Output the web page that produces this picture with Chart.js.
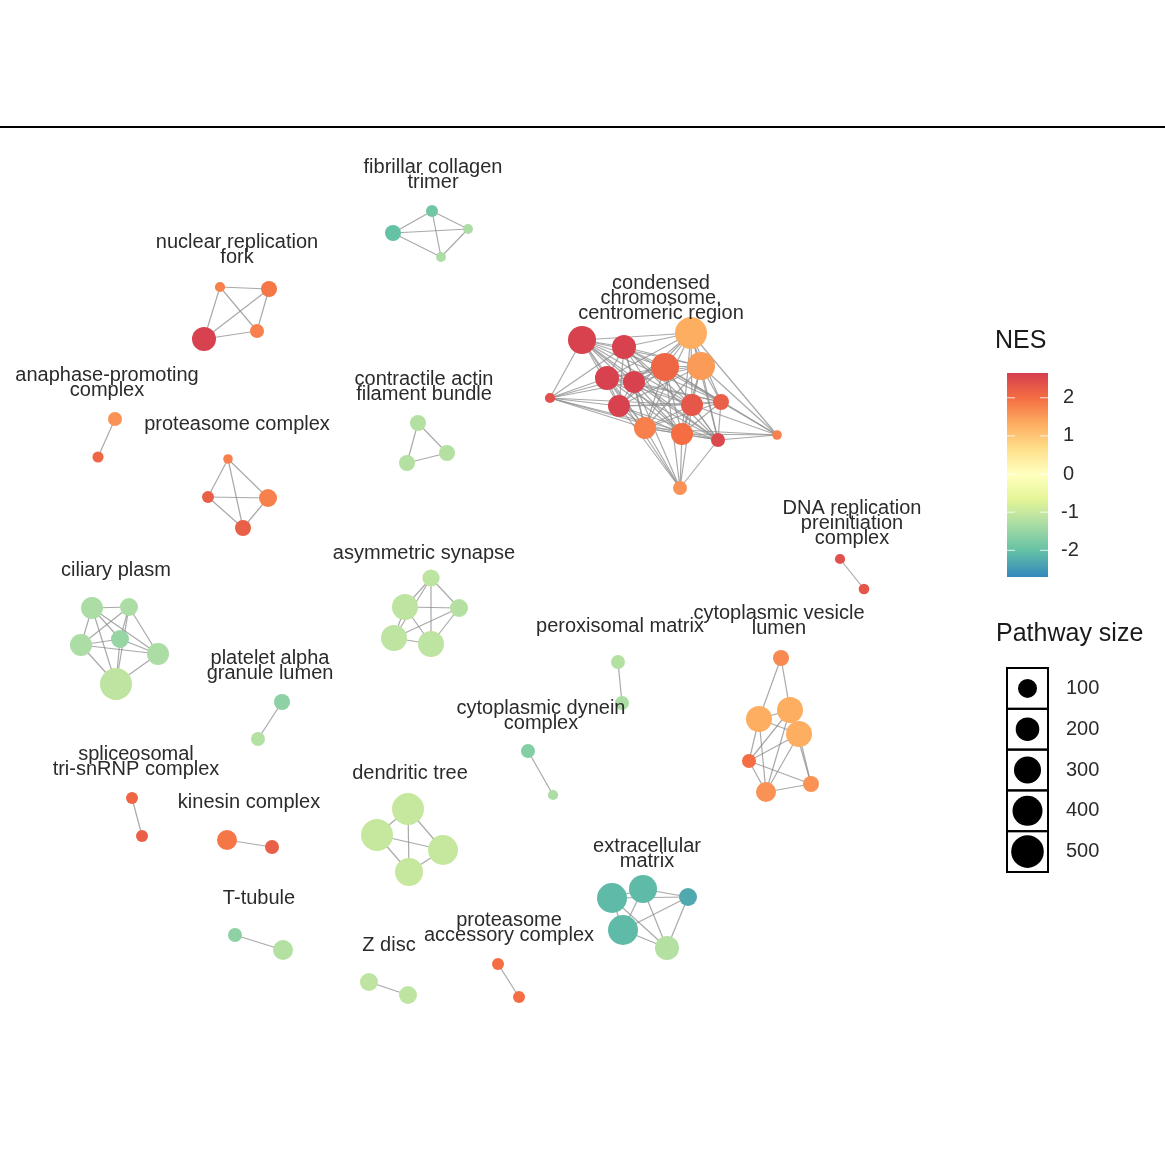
<!DOCTYPE html>
<html><head><meta charset="utf-8">
<script src="https://cdn.jsdelivr.net/npm/chart.js@4/dist/chart.umd.min.js"></script>
<style>html,body{margin:0;padding:0;background:#fff;}#wrap{width:1165px;height:1165px;}</style>
</head><body><div id="wrap"><canvas id="c" width="1165" height="1165"></canvas></div>
<script>
// ---- cluster labels ----
const clusterLabels = [
  ["fibrillar collagen","trimer"],
  ["nuclear replication","fork"],
  ["anaphase-promoting","complex"],
  ["proteasome complex"],
  ["contractile actin","filament bundle"],
  ["condensed","chromosome,","centromeric region"],
  ["DNA replication","preinitiation","complex"],
  ["ciliary plasm"],
  ["asymmetric synapse"],
  ["peroxisomal matrix"],
  ["cytoplasmic vesicle","lumen"],
  ["platelet alpha","granule lumen"],
  ["cytoplasmic dynein","complex"],
  ["spliceosomal","tri-snRNP complex"],
  ["kinesin complex"],
  ["dendritic tree"],
  ["extracellular","matrix"],
  ["T-tubule"],
  ["Z disc"],
  ["proteasome","accessory complex"]
];
const labelX = [433,237,107,237,424,661,852,116,424,620,779,270,541,136,249,410,647,259,389,509];
const labelY = [167,242,375,424,379,283,508,570,553,626,613,658,708,754,802,773,846,898,945,920];

// ---- nodes (layout coordinates, pathway size, NES) ----
const nodeCluster = [0,0,0,0, 1,1,1,1, 2,2, 3,3,3,3, 4,4,4,
  5,5,5,5,5,5,5,5,5,5,5,5,5,5,5,5, 6,6, 7,7,7,7,7,7, 8,8,8,8,8, 9,9,
  10,10,10,10,10,10,10, 11,11, 12,12, 13,13, 14,14, 15,15,15,15, 16,16,16,16,16, 17,17, 18,18, 19,19];
const nodeX = [393,432,468,441, 220,269,257,204, 115,98, 228,208,268,243, 418,447,407,
  582,624,691,665,701,607,634,550,619,692,721,645,682,718,777,680, 840,864,
  92,129,120,81,158,116, 431,405,459,394,431, 618,622,
  781,759,790,799,749,766,811, 282,258, 528,553, 132,142, 227,272,
  408,377,443,409, 612,643,688,623,667, 235,283, 369,408, 498,519];
const nodeY = [233,211,229,257, 287,289,331,339, 419,457, 459,497,498,528, 423,453,463,
  340,347,333,367,366,378,382,398,406,405,402,428,434,440,435,488, 559,589,
  608,607,639,645,654,684, 578,607,608,638,644, 662,703,
  658,719,710,734,761,792,784, 702,739, 751,795, 798,836, 840,847,
  809,835,850,872, 898,889,897,930,948, 935,950, 982,995, 964,997];
const nodeSize = [53,13,3,3, 4,53,30,212, 30,8, 2,13,83,53, 53,53,53,
  331,212,476,331,331,212,162,4,162,162,53,162,162,30,2,30, 4,6,
  162,83,83,162,162,476, 70,268,83,268,268, 30,30,
  53,268,268,268,30,119,53, 53,30, 30,4, 13,13, 119,30,
  476,476,400,331, 400,331,83,400,212, 30,119, 83,83, 13,13];
const nodeNES = [-2.0,-1.9,-1.3,-1.3, 1.8,1.9,1.8,2.6, 1.6,2.1, 1.8,2.2,1.8,2.2, -1.2,-1.2,-1.2,
  2.6,2.6,1.3,2.1,1.5,2.6,2.6,2.4,2.6,2.3,2.2,1.8,2.0,2.5,1.8,1.6, 2.4,2.3,
  -1.3,-1.3,-1.5,-1.3,-1.3,-1.1, -1.1,-1.1,-1.2,-1.1,-1.1, -1.2,-1.3,
  1.7,1.3,1.3,1.3,2.0,1.6,1.6, -1.6,-1.2, -1.7,-1.3, 2.1,2.2, 1.9,2.2,
  -1.0,-1.0,-1.0,-1.0, -2.1,-2.1,-2.3,-2.1,-1.2, -1.6,-1.2, -1.1,-1.1, 2.0,2.0];

// ---- edges per cluster (local node indices) ----
const K = n => { const e=[]; for(let i=0;i<n;i++) for(let j=i+1;j<n;j++) e.push([i,j]); return e; };
const condensedCore = [0,1,2,3,4,5,6,8,9,10,11,12,13];
const condensedEdges = (() => {
  const e=[];
  for(let a=0;a<condensedCore.length;a++) for(let b=a+1;b<condensedCore.length;b++) e.push([condensedCore[a],condensedCore[b]]);
  [0,1,5,6,8,11,12,13,9,3].forEach(t=>e.push([7,t]));
  [2,4,9,10,12,13,11,3].forEach(t=>e.push([14,t]));
  [5,8,11,12,13,9,6,3].forEach(t=>e.push([15,t]));
  return e;
})();
const clusterEdges = [
  K(4), K(4), [[0,1]], K(4), K(3), condensedEdges, [[0,1]], K(6), K(5), [[0,1]],
  [[0,1],[0,2],[1,2],[1,3],[1,4],[1,5],[2,3],[2,4],[2,5],[3,4],[3,5],[3,6],[4,5],[4,6],[5,6],[2,6]],
  [[0,1]], [[0,1]], [[0,1]], [[0,1]], K(4), K(5), [[0,1]], [[0,1]], [[0,1]]
];

// ---- legends ----
const nesTicks = [2,1,0,-1,-2];
const nesRange = [-2.7, 2.65];
const sizeLegend = [100,200,300,400,500];

// ---- styling helpers ----
const FONT = '"Liberation Sans", Arial, Helvetica, sans-serif';
const stops = [[-2.7,'#3288bd'],[-2.0,'#66c2a5'],[-1.3,'#abdda4'],[-0.65,'#e6f598'],[0,'#ffffbf'],[0.65,'#fee08b'],[1.3,'#fdae61'],[2.0,'#f46d43'],[2.65,'#d53e4f']];
function hex(h){return [parseInt(h.slice(1,3),16),parseInt(h.slice(3,5),16),parseInt(h.slice(5,7),16)];}
function nesColor(v){
  if(v<=stops[0][0]) return stops[0][1];
  for(let i=1;i<stops.length;i++){
    if(v<=stops[i][0]){
      const t=(v-stops[i-1][0])/(stops[i][0]-stops[i-1][0]);
      const a=hex(stops[i-1][1]), b=hex(stops[i][1]);
      return 'rgb('+a.map((c,k)=>Math.round(c+(b[k]-c)*t)).join(',')+')';
    }
  }
  return stops[stops.length-1][1];
}
const radius = s => 4 + 0.55*Math.sqrt(s);

// ---- build datasets ----
const clusterStart = [];
nodeCluster.forEach((c,i)=>{ if(clusterStart[c]===undefined) clusterStart[c]=i; });
const datasets = [];
clusterEdges.forEach((list,c)=>{
  list.forEach(([a,b])=>{
    const i=clusterStart[c]+a, j=clusterStart[c]+b;
    datasets.push({type:'line', data:[{x:nodeX[i],y:nodeY[i]},{x:nodeX[j],y:nodeY[j]}],
      borderColor:'rgba(140,140,140,0.75)', borderWidth:1.2, pointRadius:0, fill:false, order:2});
  });
});
datasets.push({type:'bubble', order:0,
  data: nodeX.map((x,i)=>({x:x,y:nodeY[i],r:radius(nodeSize[i])})),
  backgroundColor: nodeNES.map(nesColor), borderWidth:0});

const decor = {
  id:'decor',
  beforeDatasetsDraw(chart){
    const {ctx, scales:{x,y}} = chart;
    ctx.save();
    ctx.strokeStyle='#000'; ctx.lineWidth=2;
    ctx.beginPath(); ctx.moveTo(x.getPixelForValue(0), y.getPixelForValue(127)); ctx.lineTo(x.getPixelForValue(1165), y.getPixelForValue(127)); ctx.stroke();
    ctx.restore();
  },
  afterDatasetsDraw(chart){
    const {ctx, scales:{x,y}} = chart;
    ctx.save();
    // cluster labels
    ctx.fillStyle='#2b2b2b'; ctx.font='20px '+FONT; ctx.textAlign='center'; ctx.textBaseline='middle';
    clusterLabels.forEach((lines,c)=>{
      lines.forEach((t,k)=>ctx.fillText(t, x.getPixelForValue(labelX[c]), y.getPixelForValue(labelY[c]+k*15)));
    });
    // NES colour bar
    const bx=1007, bw=41, top=373, bot=577;
    const v2y = v => top + (nesRange[1]-v)/(nesRange[1]-nesRange[0])*(bot-top);
    const g = ctx.createLinearGradient(0,top,0,bot);
    stops.slice().reverse().forEach(([v,c])=>g.addColorStop((nesRange[1]-v)/(nesRange[1]-nesRange[0]),c));
    ctx.fillStyle=g; ctx.fillRect(bx,top,bw,bot-top);
    ctx.strokeStyle='rgba(255,255,255,0.8)'; ctx.lineWidth=1;
    ctx.fillStyle='#2b2b2b'; ctx.textAlign='left'; ctx.font='20px '+FONT;
    nesTicks.forEach(v=>{
      const ty=v2y(v);
      ctx.beginPath(); ctx.moveTo(bx,ty); ctx.lineTo(bx+8,ty); ctx.moveTo(bx+bw-8,ty); ctx.lineTo(bx+bw,ty); ctx.stroke();
      ctx.fillText(String(v), v<0?1061:1063, ty);
    });
    ctx.font='25px '+FONT; ctx.fillStyle='#1a1a1a';
    ctx.fillText('NES', 995, 341);
    ctx.fillText('Pathway size', 996, 634);
    // size legend
    ctx.font='20px '+FONT; ctx.fillStyle='#2b2b2b';
    const boxTop=668, boxH=40.8;
    sizeLegend.forEach((s,k)=>{
      const yy=boxTop+k*boxH;
      ctx.strokeStyle='#000'; ctx.lineWidth=2; ctx.strokeRect(bx,yy,bw,boxH);
      ctx.fillStyle='#000'; ctx.beginPath(); ctx.arc(bx+bw/2, yy+boxH/2, radius(s), 0, Math.PI*2); ctx.fill();
      ctx.fillStyle='#2b2b2b'; ctx.fillText(String(s), 1066, yy+boxH/2);
    });
    ctx.restore();
  }
};

new Chart(document.getElementById('c'), {
  type:'bubble',
  data:{datasets},
  options:{
    responsive:false, animation:false, events:[],
    layout:{padding:0, autoPadding:false},
    plugins:{legend:{display:false}, tooltip:{enabled:false}},
    scales:{
      x:{type:'linear', min:0, max:1165, display:false},
      y:{type:'linear', min:0, max:1165, reverse:true, display:false}
    }
  },
  plugins:[decor]
});
</script></body></html>
